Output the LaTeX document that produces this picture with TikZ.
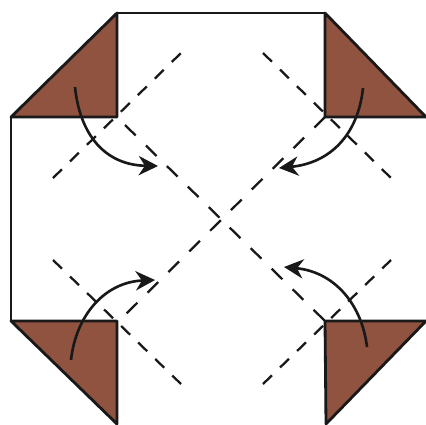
\documentclass[tikz,border=0pt]{standalone}
\usepackage{tikz}
\usetikzlibrary{arrows.meta}
\definecolor{flapbrown}{HTML}{8F5340}
\tikzset{
    edge/.style={line width=1.6pt, draw=black!90, line join=round},
    flap/.style={edge, fill=flapbrown},
    crease/.style={line width=1.3pt, draw=black!90, dash pattern=on 7.1pt off 6.4pt},
    longcrease/.style={line width=1.3pt, draw=black!90, dash pattern=on 8.5pt off 8.2pt},
    turn/.style={line width=1.5pt, draw=black!90, -{Stealth[length=11pt,width=11pt]}}
}
\begin{document}
\begin{tikzpicture}[x=0.02cm,y=-0.02cm]
        \useasboundingbox (0,0) rectangle (426,424);

        \coordinate (a) at (117,117);
        \coordinate (b) at (325,117);
        \coordinate (c) at (117,321);
        \coordinate (d) at (325,321);

        \coordinate (ta) at (117,13);
        \coordinate (tb) at (325,13);
        \coordinate (la) at (11,117);
        \coordinate (lc) at (11,321);
        \coordinate (rb) at (426,117);
        \coordinate (rd) at (426,321);
        \coordinate (bc) at (117,424);
        \coordinate (bd) at (326,424);

        \coordinate (a1) at (53,178);
        \coordinate (a2) at (181,53);
        \coordinate (b1) at (263,53);
        \coordinate (b2) at (391,178);
        \coordinate (c1) at (53,260);
        \coordinate (c2) at (181,384);
        \coordinate (d1) at (263,384);
        \coordinate (d2) at (391,260);
        \coordinate (ae) at (125,125);
        \coordinate (ce) at (125,315);

        \draw[crease] (a1) -- (a2);
        \draw[crease] (b1) -- (b2);
        \draw[crease] (c1) -- (c2);
        \draw[crease] (d1) -- (d2);
        \draw[longcrease] (ae) -- (d);
        \draw[longcrease] (b) -- (ce);

        \draw[edge] (la) -- (lc);
        \draw[edge] (ta) -- (tb);

        \draw[flap] (ta) -- (a) -- (la) -- cycle;
        \draw[flap] (tb) -- (b) -- (rb) -- cycle;
        \draw[flap] (lc) -- (c) -- (bc) -- cycle;
        \draw[flap] (rd) -- (d) -- (bd) -- cycle;

        \coordinate (p1) at (75,87);
        \coordinate (q1) at (158,166);
        \coordinate (p2) at (363,88);
        \coordinate (q2) at (279,168);
        \coordinate (p3) at (71,360);
        \coordinate (q3) at (155,280);
        \coordinate (p4) at (367,347);
        \coordinate (q4) at (284,267);

        \draw[turn] (p1) .. controls (80,135) and (105,165) .. (q1);
        \draw[turn] (p2) .. controls (358,135) and (330,163) .. (q2);
        \draw[turn] (p3) .. controls (76,315) and (105,282) .. (q3);
        \draw[turn] (p4) .. controls (362,305) and (335,272) .. (q4);
        \end{tikzpicture}
\end{document}
